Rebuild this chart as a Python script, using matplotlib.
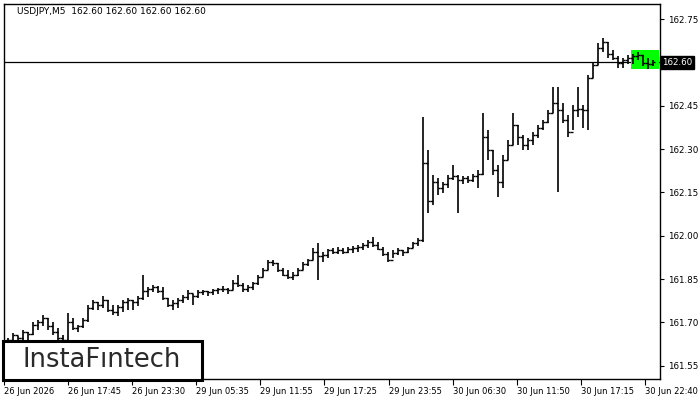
import numpy as np
import matplotlib.pyplot as plt
from matplotlib.patches import Rectangle

# USDJPY M5 bars (high / low / close)
bar_high = [161.646, 161.663, 161.653, 161.673, 161.667, 161.701, 161.708, 161.726, 161.715, 161.701,
            161.680, 161.656, 161.733, 161.715, 161.691, 161.715, 161.760, 161.777, 161.770, 161.791,
            161.777, 161.760, 161.760, 161.777, 161.784, 161.777, 161.791, 161.864, 161.822, 161.829,
            161.826, 161.822, 161.784, 161.777, 161.784, 161.795, 161.812, 161.798, 161.812, 161.812,
            161.809, 161.815, 161.819, 161.826, 161.819, 161.847, 161.864, 161.836, 161.829, 161.840,
            161.864, 161.888, 161.916, 161.916, 161.906, 161.888, 161.881, 161.874, 161.888, 161.909,
            161.919, 161.957, 161.975, 161.944, 161.954, 161.957, 161.961, 161.957, 161.961, 161.964,
            161.968, 161.975, 161.985, 161.996, 161.978, 161.961, 161.944, 161.950, 161.957, 161.950,
            161.961, 161.978, 161.992, 162.411, 162.297, 162.210, 162.200, 162.186, 162.210, 162.245,
            162.210, 162.207, 162.207, 162.214, 162.227, 162.425, 162.366, 162.297, 162.245, 162.279,
            162.331, 162.425, 162.383, 162.349, 162.338, 162.359, 162.383, 162.400, 162.435, 162.515,
            162.515, 162.459, 162.418, 162.452, 162.515, 162.452, 162.556, 162.598, 162.667, 162.684,
            162.670, 162.643, 162.622, 162.615, 162.625, 162.629, 162.636, 162.625, 162.615, 162.608]
bar_low = [161.622, 161.629, 161.632, 161.639, 161.639, 161.656, 161.673, 161.687, 161.673, 161.656,
           161.639, 161.622, 161.632, 161.673, 161.667, 161.680, 161.701, 161.743, 161.743, 161.750,
           161.736, 161.726, 161.722, 161.736, 161.743, 161.743, 161.757, 161.777, 161.788, 161.805,
           161.802, 161.777, 161.753, 161.743, 161.750, 161.767, 161.777, 161.760, 161.784, 161.795,
           161.791, 161.795, 161.798, 161.805, 161.798, 161.812, 161.822, 161.805, 161.805, 161.812,
           161.829, 161.857, 161.881, 161.895, 161.874, 161.861, 161.850, 161.847, 161.861, 161.881,
           161.895, 161.916, 161.847, 161.909, 161.923, 161.937, 161.937, 161.937, 161.940, 161.940,
           161.944, 161.950, 161.957, 161.961, 161.950, 161.930, 161.909, 161.923, 161.933, 161.930,
           161.940, 161.957, 161.964, 161.978, 162.079, 162.106, 162.141, 162.148, 162.165, 162.193,
           162.079, 162.179, 162.182, 162.186, 162.165, 162.210, 162.262, 162.210, 162.134, 162.165,
           162.262, 162.314, 162.314, 162.297, 162.297, 162.314, 162.338, 162.366, 162.390, 162.425,
           162.151, 162.390, 162.342, 162.366, 162.411, 162.373, 162.366, 162.546, 162.591, 162.636,
           162.615, 162.608, 162.580, 162.580, 162.594, 162.594, 162.608, 162.587, 162.577, 162.587]
bar_close = [161.640, 161.655, 161.645, 161.667, 161.660, 161.691, 161.701, 161.715, 161.687, 161.667,
             161.646, 161.640, 161.701, 161.680, 161.687, 161.708, 161.750, 161.770, 161.760, 161.777,
             161.743, 161.736, 161.753, 161.770, 161.777, 161.770, 161.784, 161.809, 161.815, 161.822,
             161.809, 161.784, 161.760, 161.767, 161.777, 161.788, 161.802, 161.791, 161.805, 161.809,
             161.805, 161.812, 161.815, 161.815, 161.812, 161.836, 161.829, 161.815, 161.822, 161.836,
             161.857, 161.881, 161.909, 161.906, 161.881, 161.864, 161.857, 161.864, 161.881, 161.902,
             161.916, 161.944, 161.930, 161.933, 161.950, 161.944, 161.950, 161.944, 161.954, 161.957,
             161.961, 161.968, 161.978, 161.968, 161.954, 161.937, 161.916, 161.940, 161.950, 161.944,
             161.957, 161.975, 161.985, 162.250, 162.120, 162.186, 162.165, 162.179, 162.200, 162.207,
             162.193, 162.200, 162.193, 162.207, 162.214, 162.342, 162.297, 162.227, 162.186, 162.262,
             162.314, 162.383, 162.342, 162.314, 162.331, 162.349, 162.373, 162.394, 162.425, 162.459,
             162.435, 162.400, 162.359, 162.435, 162.440, 162.435, 162.546, 162.591, 162.650, 162.670,
             162.629, 162.615, 162.598, 162.608, 162.615, 162.622, 162.625, 162.598, 162.594, 162.600]

last_price = 162.60
pattern_from, pattern_to = 124.6, 130.2
pattern_low, pattern_high = 162.576, 162.642

price_ticks = [161.55, 161.70, 161.85, 162.00, 162.15, 162.30, 162.45, 162.75]
time_pos = [-0.8, 12.0, 24.9, 37.7, 50.5, 63.3, 76.2, 89.0, 101.8, 114.6, 127.5]
time_labels = ["26 Jun 2026", "26 Jun 17:45", "26 Jun 23:30", "29 Jun 05:35", "29 Jun 11:55",
               "29 Jun 17:25", "29 Jun 23:55", "30 Jun 06:30", "30 Jun 11:50", "30 Jun 17:15",
               "30 Jun 22:40"]

fig = plt.figure(figsize=(7, 4), dpi=100)
ax = fig.add_axes([4 / 700, 21 / 400, 656 / 700, 375 / 400])

idx = np.arange(len(bar_high))
bar_open = [bar_close[0]] + bar_close[:-1]

ax.axhline(last_price, color="black", lw=0.9, zorder=1)
ax.add_patch(Rectangle((pattern_from, pattern_low), pattern_to - pattern_from,
                       pattern_high - pattern_low, color="#00ff00", zorder=2, lw=0))
# OHLC bars: vertical high-low, left tick = open, right tick = close
ax.vlines(idx, bar_low, bar_high, color="black", lw=1.2, zorder=3)
ax.hlines(bar_open, idx - 0.5, idx, color="black", lw=1.0, zorder=3)
ax.hlines(bar_close, idx, idx + 0.5, color="black", lw=1.0, zorder=3)

ax.set_xlim(-0.8, 130.4)
ax.set_ylim(161.504, 162.802)

ax.yaxis.tick_right()
ax.set_yticks(price_ticks)
ax.set_yticklabels([f"{p:.2f}" for p in price_ticks])
ax.tick_params(axis="y", direction="out", length=3, width=0.8, labelsize=6.3, pad=3)
ax.set_xticks(time_pos)
ax.set_xticklabels(time_labels, ha="left")
ax.tick_params(axis="x", direction="out", length=4, width=0.8, labelsize=6.0, pad=2)
for s in ax.spines.values():
    s.set_linewidth(1)
    s.set_color("black")

ax.text(1.003, last_price, f"{last_price:.2f}", transform=ax.get_yaxis_transform(),
        color="white", fontsize=6.3, va="center", ha="left",
        bbox=dict(boxstyle="square,pad=0.25", fc="black", ec="black"))

fig.text(17 / 700, 1 - 12 / 400, "USDJPY,M5  162.60 162.60 162.60 162.60",
         fontsize=6.5, va="center", ha="left", color="black")

# logo box
fig.patches.append(Rectangle((3 / 700, 20 / 400), 199 / 700, 39 / 400, transform=fig.transFigure,
                             fc="white", ec="black", lw=2.2, zorder=5))
fig.text(102 / 700, 40 / 400, "InstaF\u0131ntech", fontsize=18.5, color="#2a2a2a",
         ha="center", va="center", zorder=6)

fig.savefig("out.png", dpi=100)
